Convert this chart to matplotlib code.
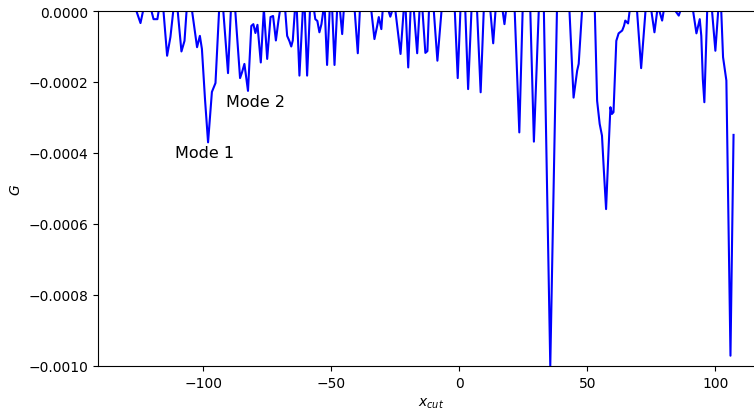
"""G vs x_cut plot."""

import matplotlib
matplotlib.use("Agg")
import matplotlib.pyplot as plt
import numpy as np

# x_cut samples and G values (G in units of 1e-4)
x_cut = [
    -129.5, -126.2, -124.6, -123.6, -121.5, -119.5, -118.0, -117.5, -116.0, -114.2,
    -112.9, -111.8, -110.5, -108.6, -107.4, -106.6, -105.1, -102.5, -101.4, -100.6,
    -99.4, -98.2, -96.7, -95.3, -93.9, -92.6, -90.4, -89.3, -87.9, -85.7,
    -84.9, -84.0, -82.6, -81.3, -80.5, -79.7, -78.9, -77.6, -76.4, -75.1,
    -73.8, -72.8, -71.7, -70.7, -69.9, -68.4, -67.3, -66.4, -65.7, -65.1,
    -64.3, -63.7, -62.5, -61.2, -60.5, -59.5, -58.4, -57.4, -56.3, -55.5,
    -54.7, -53.9, -53.2, -52.7, -51.7, -50.7, -49.8, -48.8, -47.8, -46.9,
    -45.8, -45.2, -42.6, -40.9, -39.7, -38.9, -36.3, -34.4, -33.2, -32.1,
    -31.5, -30.5, -30.0, -28.5, -27.0, -26.3, -25.4, -25.0, -23.0, -21.8,
    -21.1, -20.0, -19.1, -18.0, -16.5, -15.6, -14.6, -13.3, -12.5, -11.9,
    -10.9, -10.0, -8.6, -7.0, -4.3, -1.8, -0.66, 0.39, 1.4, 2.3,
    3.4, 4.7, 5.9, 6.9, 8.3, 9.5, 10.9, 12.1, 13.2, 14.1,
    15.6, 16.9, 17.6, 18.2, 20.3, 21.6, 23.4, 24.7, 25.6, 27.7,
    29.1, 31.0, 32.2, 33.0, 35.5, 38.1, 40.2, 43.0, 44.6, 46.0,
    46.6, 47.9, 50.4, 52.9, 53.8, 54.8, 55.7, 56.4, 57.3, 58.3,
    59.0, 59.6, 60.2, 61.3, 62.2, 63.6, 64.3, 64.8, 65.9, 66.5,
    68.0, 69.4, 71.0, 72.7, 74.2, 75.0, 76.2, 77.2, 77.7, 79.2,
    79.8, 82.4, 85.7, 86.3, 87.9, 91.3, 92.6, 93.9, 94.5, 95.1,
    95.7, 96.8, 97.7, 98.7, 100.0, 101.1, 101.8, 102.3, 103.0, 104.3,
    105.9, 107.1,
]
G_e4 = [
    0.34, 0.0, -0.34, 0.0, 0.34, -0.23, -0.23, 0.0, 0.34, -1.26,
    -0.73, 0.0, 0.34, -1.14, -0.84, 0.0, 0.34, -1.02, -0.70, -1.07,
    -2.48, -3.70, -2.28, -2.03, 0.0, 0.34, -1.75, 0.0, 0.34, -1.89,
    -1.72, -1.49, -2.25, -0.42, -0.37, -0.62, -0.39, -1.45, 0.06, -1.35,
    -0.17, -0.14, -0.83, -0.27, 0.11, 0.34, -0.70, -0.85, -1.00, -0.83,
    0.0, 0.34, -1.82, 0.0, 0.2, -1.82, 0.0, 0.34, -0.23, -0.28,
    -0.60, -0.37, 0.0, 0.2, -1.52, 0.0, 0.2, -1.52, 0.0, 0.2,
    -0.65, 0.0, 0.34, 0.0, -1.19, 0.0, 0.34, 0.0, -0.79, -0.41,
    -0.17, -0.51, 0.0, 0.2, -0.16, 0.0, 0.34, 0.0, -1.21, 0.0,
    0.2, -1.59, 0.0, 0.2, -1.19, 0.0, 0.2, -1.18, -1.13, 0.0,
    0.34, 0.0, -1.40, 0.0, 0.34, 0.0, -1.89, 0.0, 0.2, 0.0,
    -2.20, 0.0, 0.34, 0.0, -2.29, 0.0, 0.34, 0.0, -0.91, 0.0,
    0.34, 0.0, -0.37, 0.0, 0.34, 0.0, -3.42, 0.0, 0.34, 0.0,
    -3.68, 0.0, 0.34, 0.0, -10.0, 0.0, 0.34, 0.0, -2.44, -1.68,
    -1.49, 0.0, 0.34, 0.0, -2.53, -3.18, -3.51, -4.45, -5.58, -3.84,
    -2.71, -2.90, -2.85, -0.84, -0.63, -0.55, -0.42, -0.27, -0.35, 0.0,
    0.34, 0.0, -1.61, 0.0, 0.2, 0.0, -0.60, -0.04, 0.11, -0.27,
    0.0, 0.2, -0.13, 0.0, 0.06, 0.0, -0.63, -0.23, -0.70, -1.92,
    -2.57, 0.0, 0.34, 0.0, -1.12, 0.0, 0.2, 0.0, -1.30, -1.96,
    -9.71, -3.49,
]

mode_labels = ["Mode 1", "Mode 2"]
mode_x = [-111.3, -91.3]
mode_y = [-0.000410, -0.000267]

x = np.array(x_cut)
G = np.array(G_e4) * 1e-4

fig = plt.figure(figsize=(7.54, 4.10), dpi=100)
ax = fig.add_axes([98 / 754, 43 / 410, 666 / 754, 355 / 410])

ax.plot(x, G, color="blue", linewidth=1.5)
for label, mx, my in zip(mode_labels, mode_x, mode_y):
    ax.text(mx, my, label, fontsize=11.5)

ax.set_xlim(-141.2, 119.0)
ax.set_ylim(-0.001, 0.0)
ax.set_xlabel("$x_{cut}$")
ax.set_ylabel("$G$")

fig.savefig("out.png", dpi=100)
